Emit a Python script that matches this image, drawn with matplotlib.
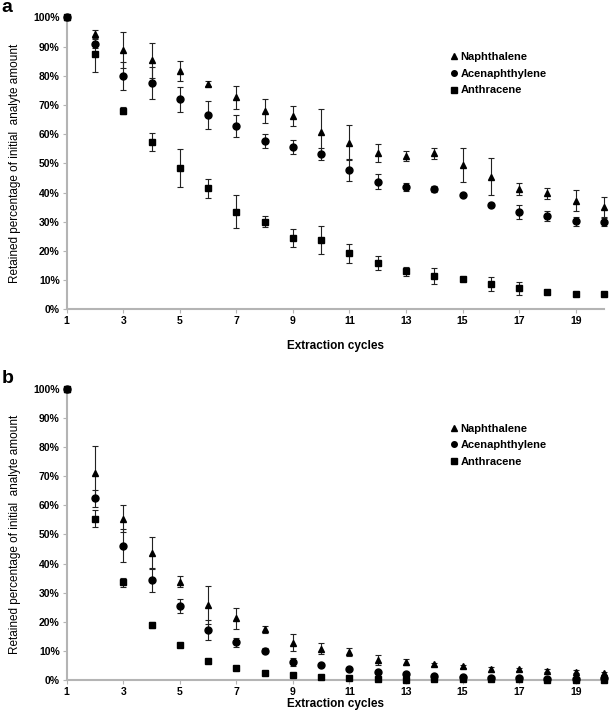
import numpy as np
import matplotlib
matplotlib.use("Agg")
import matplotlib.pyplot as plt
from matplotlib.ticker import PercentFormatter
from matplotlib.lines import Line2D

plt.rcParams['font.family'] = ['Liberation Sans', 'DejaVu Sans']

cycles = list(range(1, 21))
series_names = ["Naphthalene", "Acenaphthylene", "Anthracene"]
markers = ["^", "o", "s"]

# panel a, retained % and error
naph_a = [100, 94.3, 88.8, 85.4, 81.6, 77.3, 72.6, 67.8, 66.3, 60.8,
          57.1, 53.4, 52.5, 53.4, 49.4, 45.4, 41.1, 39.7, 37.2, 35.1]
naph_a_err = [0, 1.4, 6.1, 6.0, 3.3, 0.8, 3.9, 4.1, 3.5, 7.7,
              6.0, 3.1, 1.8, 1.8, 5.8, 6.4, 2.0, 1.8, 3.6, 3.5]
acen_a = [100, 91.0, 79.8, 77.5, 71.9, 66.7, 62.8, 57.6, 55.6, 53.2,
          47.7, 43.7, 41.9, 41.3, 39.1, 35.7, 33.4, 32.1, 30.2, 30.0]
acen_a_err = [0, 1.5, 4.8, 5.5, 4.4, 4.8, 3.8, 2.3, 2.5, 2.0,
              3.9, 2.6, 1.3, 1.0, 0, 0.8, 2.4, 1.7, 1.5, 1.3]
anth_a = [100, 87.4, 68.0, 57.4, 48.4, 41.4, 33.4, 30.0, 24.3, 23.7,
          19.2, 15.9, 13.0, 11.4, 10.3, 8.7, 7.2, 5.9, 5.1, 5.3]
anth_a_err = [0, 6.0, 1.2, 3.0, 6.6, 3.1, 5.7, 1.8, 3.1, 4.9,
              3.3, 2.4, 1.6, 2.7, 0, 2.4, 2.3, 0.7, 0.3, 0.5]

# panel b
naph_b = [100, 71.2, 55.4, 43.5, 33.8, 25.7, 21.2, 17.4, 12.8, 10.8,
          9.7, 6.9, 6.3, 5.4, 4.8, 3.7, 3.7, 3.2, 2.9, 2.3]
naph_b_err = [0, 9.3, 4.7, 5.5, 1.9, 6.6, 3.7, 1.2, 2.9, 1.8,
              1.3, 1.6, 1.0, 0.5, 0.5, 0.8, 0.5, 0.6, 0.5, 0.5]
acen_b = [100, 62.4, 46.1, 34.4, 25.4, 17.2, 12.9, 10.1, 6.2, 5.1,
          3.7, 2.6, 2.1, 1.5, 1.1, 0.6, 0.6, 0.3, 0.3, 0.6]
acen_b_err = [0, 3.0, 5.7, 4.0, 2.3, 3.3, 1.7, 0.8, 1.3, 0.3,
              0.3, 0.3, 0.6, 0.6, 0.6, 0.5, 0.5, 0.3, 0.3, 0.3]
anth_b = [100, 55.4, 33.5, 18.9, 12.0, 6.5, 4.2, 2.3, 1.6, 1.1,
          0.6, 0.2, 0.1, 0.5, 0.3, 0.3, 0.3, 0.1, 0.1, 0.1]
anth_b_err = [0, 3.0, 1.6, 1.0, 0, 0, 0, 0, 0, 0,
              0, 0, 0.3, 0.5, 0.5, 0.4, 0.4, 0.3, 0.3, 0.3]

panels = [
    ("a", [naph_a, acen_a, anth_a], [naph_a_err, acen_a_err, anth_a_err]),
    ("b", [naph_b, acen_b, anth_b], [naph_b_err, acen_b_err, anth_b_err]),
]

fig = plt.figure(figsize=(6.09, 7.19), dpi=100)
axes_pos = [[0.1095, 0.5698, 0.8823, 0.406],
            [0.1095, 0.0542, 0.8823, 0.405]]
xlabel_pads = [10, 0.8]
grey = "#b4b4b4"
fs = 7.5

for pos, xpad, (letter, vals, errs) in zip(axes_pos, xlabel_pads, panels):
    ax = fig.add_axes(pos)
    for name, m, v, e in zip(series_names, markers, vals, errs):
        ax.errorbar(cycles, v, yerr=e, fmt=m, color="black", ms=5,
                    ecolor="#222222", elinewidth=0.8, capsize=2, capthick=0.8,
                    clip_on=False, zorder=3)
    ax.set_xlim(1, 20)
    ax.set_ylim(0, 100)
    ax.set_xticks(range(1, 20, 2))
    ax.set_yticks(range(0, 101, 10))
    ax.yaxis.set_major_formatter(PercentFormatter(xmax=100, decimals=0))
    for s in ["top", "right"]:
        ax.spines[s].set_visible(False)
    for s in ["left", "bottom"]:
        ax.spines[s].set_color(grey)
        ax.spines[s].set_linewidth(1.5)
    ax.tick_params(axis="both", color=grey, length=3, width=0.8,
                   labelsize=fs, pad=2)
    for lab in ax.get_xticklabels() + ax.get_yticklabels():
        lab.set_fontweight("bold")
    ax.set_xlabel("Extraction cycles", fontsize=8.5, fontweight="bold",
                  labelpad=xpad)
    ax.set_ylabel("Retained percentage of initial  analyte amount", fontsize=8.5,
                  labelpad=9)
    handles = [Line2D([], [], ls="none", marker=m, color="black", ms=4)
               for m in markers]
    leg = ax.legend(handles, series_names, loc="upper left",
                    bbox_to_anchor=(0.705, 0.90), frameon=False,
                    fontsize=8, handlelength=0.6, handletextpad=0.25,
                    labelspacing=0.6, borderpad=0)
    for t in leg.get_texts():
        t.set_fontweight("bold")
    fig.text(0.003, pos[1] + pos[3] + 0.026, letter, fontsize=14,
             fontweight="bold", va="top", ha="left")

fig.savefig("out.png", dpi=100)
